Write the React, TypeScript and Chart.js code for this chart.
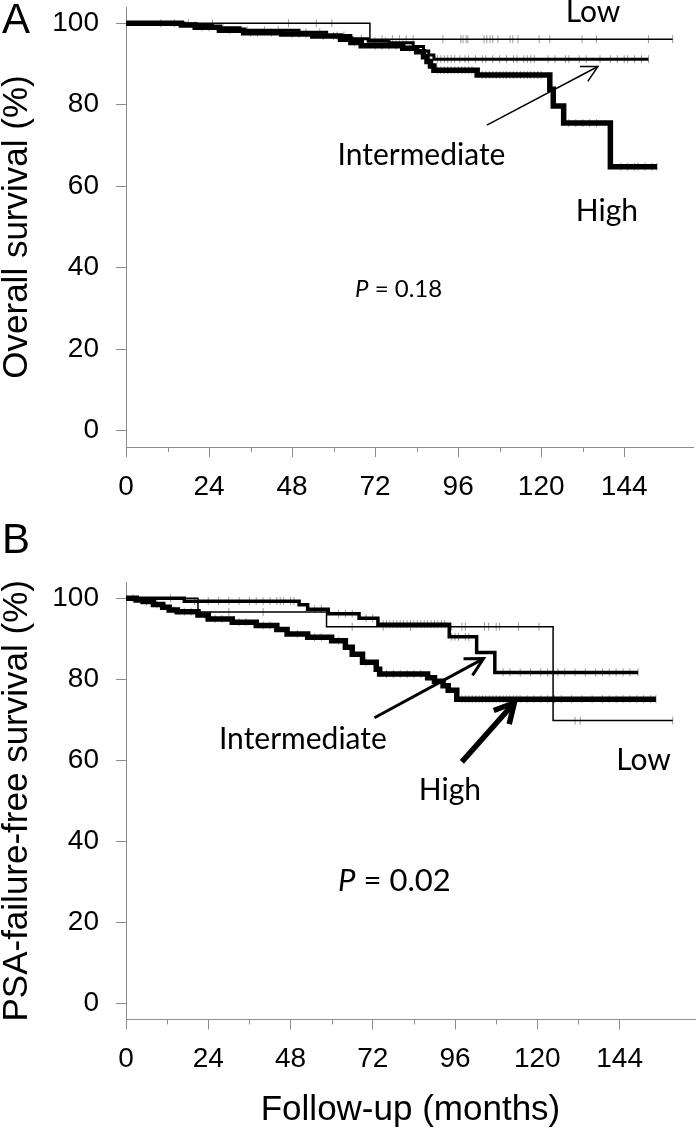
import React, { useEffect, useRef } from "react";
import { Chart, registerables } from "chart.js";
Chart.register(...registerables);

// ---------------- axis ticks ----------------
const xTickValues = [0, 24, 48, 72, 96, 120, 144];
const xMinorTickValues = [12, 36, 60, 84, 108, 132];
const yTickValues = [0, 20, 40, 60, 80, 100];

// ---------------- Panel A: overall survival ----------------
const lowA_time = [0, 70.5, 158];
const lowA_surv = [100, 96.1, 96.1];
const lowA_censor = [18, 25, 47, 55, 59.5, 74, 77, 79, 81, 83, 91.6, 96.8, 97.4, 98.3, 98.8, 103.5, 104.3, 105.2, 106, 107.5, 111, 111.8, 113.3, 119.4, 122.5, 131.8, 136, 151, 158];

const intA_time = [0, 17, 25, 33, 50, 58, 65, 70, 76, 83, 86, 87.5, 89, 151];
const intA_surv = [100, 99.5, 98.9, 98.3, 97.8, 97.0, 96.2, 95.6, 95.2, 94.3, 93.2, 92.2, 91.2, 91.2];
const intA_censor = [20, 28, 35, 40, 44, 52, 56, 61, 63, 68, 72, 75, 78, 80, 90, 91, 92, 93, 94, 95, 96.5, 98, 99, 101, 103, 104, 106, 108, 110, 112, 113, 115, 116, 117, 118, 122, 124, 127, 128, 131, 133, 137, 140, 142, 144, 145, 147, 149, 151];

const highA_time = [0, 16, 20, 27, 34, 45, 54, 62, 65, 68, 80, 84, 86, 87, 88, 89, 101.5, 122.5, 123.5, 126.5, 140, 153.5];
const highA_surv = [100, 99.6, 99.0, 98.3, 97.7, 97.4, 96.9, 96.1, 95.3, 94.5, 93.9, 93.0, 91.8, 90.6, 89.5, 88.5, 87.3, 83.8, 79.7, 75.5, 64.8, 64.8];
const highA_censor = [10, 14, 22, 24, 30, 36, 38, 42, 48, 50, 52, 57, 60, 66, 72, 74, 76, 78, 82, 90, 91, 92, 93, 94, 95, 96, 97, 98, 99, 100, 103, 104, 105, 106, 107, 108, 109, 110, 111, 112, 113, 114, 115, 116, 117, 118, 119, 120, 128, 130, 132, 134, 136, 143, 145, 147, 148, 150, 152, 153.5];

// ---------------- Panel B: PSA-failure-free survival ----------------
const lowB_time = [0, 21, 58.5, 124.6, 159.5];
const lowB_surv = [100, 96.6, 93.0, 69.8, 69.8];
const lowB_censor = [13, 30, 40, 66, 75, 83, 95, 98, 99, 104.6, 105.8, 108, 109, 114.5, 120.5, 131, 132.5, 159.5];

const intB_time = [0, 17, 50.5, 53, 59, 68, 73.5, 94.3, 102.3, 107.6, 149.4];
const intB_surv = [100, 99.3, 98.4, 97.3, 96.2, 95.1, 93.6, 90.5, 86.6, 81.7, 81.7];
const intB_censor = [20, 24, 27, 30, 33, 36, 38, 40, 42, 44, 45, 46, 48, 49, 55, 57, 62, 64, 66, 70, 72, 75, 76, 77, 78, 79, 80, 81, 82, 83, 84, 85, 86, 87, 88, 89, 90, 91, 92, 93, 95, 96, 97, 99, 100, 110, 112, 115, 118, 121, 123, 126, 128, 131, 134, 137, 139, 141, 143, 145, 147, 149.4];

const highB_time = [0, 3, 5, 8, 10.7, 12.6, 15, 21, 24, 31, 38, 44, 47, 53, 60, 64, 66, 69, 73, 74, 88, 90, 92.5, 94, 96.5, 154.6];
const highB_surv = [100, 99.6, 99.2, 98.5, 97.8, 97.1, 96.7, 95.9, 94.9, 94.1, 93.3, 92.3, 91.2, 90.4, 89.5, 87.9, 86.2, 84.2, 82.5, 81.3, 80.4, 79.5, 78.4, 77.3, 75.1, 75.1];
const highB_censor = [2, 6, 9, 14, 17, 19, 23, 26, 28, 33, 35, 40, 42, 50, 55, 57, 62, 70, 76, 78, 80, 82, 84, 86, 98, 99, 100, 101, 102, 103, 104, 105, 106, 107, 108, 109, 110, 111, 112, 113, 114, 115, 117, 119, 121, 123, 125, 127, 130, 133, 136, 139, 141, 143, 145, 147, 149, 151, 153, 154.6];

// ---------------- styling ----------------
const AXIS = "#8c8c8c";
const CENSOR = "#9a9a9a";
const SANS = "'Liberation Sans', Arial, sans-serif";
const LABEL_FONT = "Lato, 'Open Sans', sans-serif";

function stepValue(time: number[], surv: number[], t: number) {
  let v = surv[0];
  for (let i = 0; i < time.length; i++) if (time[i] <= t) v = surv[i];
  return v;
}

type Series = { time: number[]; surv: number[]; censor: number[]; width: number };
type Label = { text: string; x: number; y: number; size: number; italicP?: boolean };
type Arrow = { x1: number; y1: number; x2: number; y2: number; width: number; head: number };
type Spec = {
  height: number;
  top: number;
  padTop: number;
  padRight: number;
  xMax: number;
  xAxisHeight: number;
  yTitle: string;
  xTitle?: string;
  series: Series[];
  labels: Label[];
  arrows: Arrow[];
  letter: string;
  letterBaseline: number;
};

const panelA: Spec = {
  height: 510,
  top: 0,
  padTop: 7,
  padRight: 6.6,
  xMax: 164,
  xAxisHeight: 63,
  yTitle: "Overall survival (%)",
  series: [
    { time: lowA_time, surv: lowA_surv, censor: lowA_censor, width: 1.5 },
    { time: intA_time, surv: intA_surv, censor: intA_censor, width: 3 },
    { time: highA_time, surv: highA_surv, censor: highA_censor, width: 5.5 },
  ],
  labels: [
    { text: "Low", x: 135, y: 100.4, size: 30 },
    { text: "Intermediate", x: 85.4, y: 65.2, size: 30 },
    { text: "High", x: 139, y: 51.55, size: 30 },
    { text: "P = 0.18", x: 78.8, y: 32.8, size: 24, italicP: true },
  ],
  arrows: [{ x1: 104.3, y1: 75.0, x2: 136.4, y2: 89.4, width: 1.5, head: 18 }],
  letter: "A",
  letterBaseline: 33,
};

const panelB: Spec = {
  height: 619,
  top: 510,
  padTop: 72.1,
  padRight: 0,
  xMax: 166,
  xAxisHeight: 109.5,
  yTitle: "PSA-failure-free survival (%)",
  xTitle: "Follow-up (months)",
  series: [
    { time: lowB_time, surv: lowB_surv, censor: lowB_censor, width: 1.5 },
    { time: intB_time, surv: intB_surv, censor: intB_censor, width: 3.5 },
    { time: highB_time, surv: highB_surv, censor: highB_censor, width: 5.5 },
  ],
  labels: [
    { text: "Intermediate", x: 51.6, y: 62.8, size: 30 },
    { text: "High", x: 94.5, y: 50.2, size: 30 },
    { text: "Low", x: 151, y: 57.6, size: 30 },
    { text: "P = 0.02", x: 78.3, y: 27.7, size: 31, italicP: true },
  ],
  arrows: [
    { x1: 72.5, y1: 70.5, x2: 104.3, y2: 85.1, width: 3, head: 20 },
    { x1: 98, y1: 59.6, x2: 113.3, y2: 74.2, width: 5.5, head: 22 },
  ],
  letter: "B",
  letterBaseline: 43,
};

function makeConfig(spec: Spec): any {
  const datasets: any[] = [];
  spec.series.forEach((s) => {
    datasets.push({
      data: s.time.map((t, i) => ({ x: t, y: s.surv[i] })),
      stepped: "before",
      borderColor: "#000",
      borderWidth: s.width,
      borderJoinStyle: "miter",
      borderCapStyle: "butt",
      pointRadius: 0,
      fill: false,
      order: 1,
    });
  });
  spec.series.forEach((s) => {
    datasets.push({
      data: s.censor.map((t) => ({ x: t, y: stepValue(s.time, s.surv, t) })),
      showLine: false,
      pointStyle: "line",
      pointRotation: 90,
      pointRadius: 4,
      pointBorderColor: CENSOR,
      pointBackgroundColor: CENSOR,
      pointBorderWidth: 1,
      order: 5,
    });
  });

  const annotPlugin = {
    id: "annot",
    afterDraw(chart: any) {
      const ctx = chart.ctx as CanvasRenderingContext2D;
      const xs = chart.scales.x;
      const ys = chart.scales.y;
      const area = chart.chartArea;
      ctx.save();
      // minor x ticks
      ctx.strokeStyle = AXIS;
      ctx.lineWidth = 1;
      for (const m of xMinorTickValues) {
        const px = Math.round(xs.getPixelForValue(m)) + 0.5;
        ctx.beginPath();
        ctx.moveTo(px, area.bottom);
        ctx.lineTo(px, area.bottom + 5);
        ctx.stroke();
      }
      // arrows
      ctx.strokeStyle = "#000";
      for (const a of spec.arrows) {
        const x1 = xs.getPixelForValue(a.x1);
        const y1 = ys.getPixelForValue(a.y1);
        const x2 = xs.getPixelForValue(a.x2);
        const y2 = ys.getPixelForValue(a.y2);
        ctx.lineWidth = a.width;
        ctx.lineCap = "butt";
        ctx.lineJoin = "miter";
        ctx.beginPath();
        ctx.moveTo(x1, y1);
        ctx.lineTo(x2, y2);
        ctx.stroke();
        const ang = Math.atan2(y2 - y1, x2 - x1);
        const sp = (28 * Math.PI) / 180;
        ctx.beginPath();
        ctx.moveTo(x2 - a.head * Math.cos(ang - sp), y2 - a.head * Math.sin(ang - sp));
        ctx.lineTo(x2, y2);
        ctx.lineTo(x2 - a.head * Math.cos(ang + sp), y2 - a.head * Math.sin(ang + sp));
        ctx.stroke();
      }
      // labels
      ctx.fillStyle = "#000";
      ctx.textBaseline = "alphabetic";
      ctx.textAlign = "left";
      for (const l of spec.labels) {
        const cx = xs.getPixelForValue(l.x);
        const by = ys.getPixelForValue(l.y);
        if (l.italicP) {
          const fItal = `italic ${l.size}px ${LABEL_FONT}`;
          const fNorm = `${l.size}px ${LABEL_FONT}`;
          const rest = l.text.slice(1);
          ctx.font = fItal;
          const w1 = ctx.measureText(l.text[0]).width;
          ctx.font = fNorm;
          const w2 = ctx.measureText(rest).width;
          const x0 = cx - (w1 + w2) / 2;
          ctx.font = fItal;
          ctx.fillText(l.text[0], x0, by);
          ctx.font = fNorm;
          ctx.fillText(rest, x0 + w1, by);
        } else {
          ctx.font = `${l.size}px ${LABEL_FONT}`;
          const w = ctx.measureText(l.text).width;
          ctx.fillText(l.text, cx - w / 2, by);
        }
      }
      // panel letter
      ctx.font = `42px ${SANS}`;
      ctx.fillText(spec.letter, 2, spec.letterBaseline);
      ctx.restore();
    },
  };

  const yAxisWidth = 126;
  return {
    type: "line",
    data: { datasets },
    plugins: [annotPlugin],
    options: {
      animation: false,
      responsive: false,
      maintainAspectRatio: false,
      devicePixelRatio: 1,
      layout: { padding: { top: spec.padTop, right: spec.padRight, bottom: 0, left: 0 } },
      plugins: { legend: { display: false }, tooltip: { enabled: false }, title: { display: false } },
      scales: {
        x: {
          type: "linear",
          min: 0,
          max: spec.xMax,
          afterBuildTicks: (s: any) => {
            s.ticks = xTickValues.map((v) => ({ value: v }));
          },
          afterFit: (s: any) => {
            s.height = spec.xAxisHeight;
            s.paddingLeft = 0;
            s.paddingRight = 0;
            s.paddingTop = 0;
            s.paddingBottom = 0;
          },
          grid: { drawOnChartArea: false, drawTicks: true, tickLength: 10, color: AXIS, lineWidth: 1 },
          border: { display: true, color: AXIS, width: 1 },
          ticks: {
            autoSkip: false,
            maxRotation: 0,
            minRotation: 0,
            padding: 13,
            color: "#000",
            font: { family: SANS, size: 28 },
          },
          title: spec.xTitle
            ? {
                display: true,
                text: spec.xTitle,
                color: "#000",
                font: { family: SANS, size: 35, lineHeight: 1 },
                padding: { top: 0, bottom: 1.5 },
              }
            : { display: false },
        },
        y: {
          type: "linear",
          min: -4,
          max: 104,
          afterBuildTicks: (s: any) => {
            s.ticks = yTickValues.map((v) => ({ value: v }));
          },
          afterFit: (s: any) => {
            s.width = yAxisWidth;
            s.paddingLeft = 0;
            s.paddingRight = 0;
            s.paddingTop = 0;
            s.paddingBottom = 0;
          },
          grid: { drawOnChartArea: false, drawTicks: true, tickLength: 10, color: AXIS, lineWidth: 1 },
          border: { display: true, color: AXIS, width: 1 },
          ticks: {
            padding: 17,
            color: "#000",
            font: { family: SANS, size: 28 },
          },
          title: {
            display: true,
            text: spec.yTitle,
            color: "#000",
            font: { family: SANS, size: 35, lineHeight: 1 },
            padding: { top: 0, bottom: 0 },
          },
        },
      },
    },
  };
}

function Panel({ spec }: { spec: Spec }) {
  const ref = useRef<HTMLCanvasElement>(null);
  useEffect(() => {
    const chart = new Chart(ref.current as HTMLCanvasElement, makeConfig(spec));
    return () => chart.destroy();
  }, [spec]);
  return (
    <canvas
      ref={ref}
      width={700}
      height={spec.height}
      style={{ position: "absolute", left: 0, top: spec.top, width: 700, height: spec.height }}
    />
  );
}

export default function App() {
  return (
    <div style={{ position: "absolute", left: 0, top: 0, width: 700, height: 1129, background: "#fff" }}>
      <Panel spec={panelA} />
      <Panel spec={panelB} />
    </div>
  );
}
